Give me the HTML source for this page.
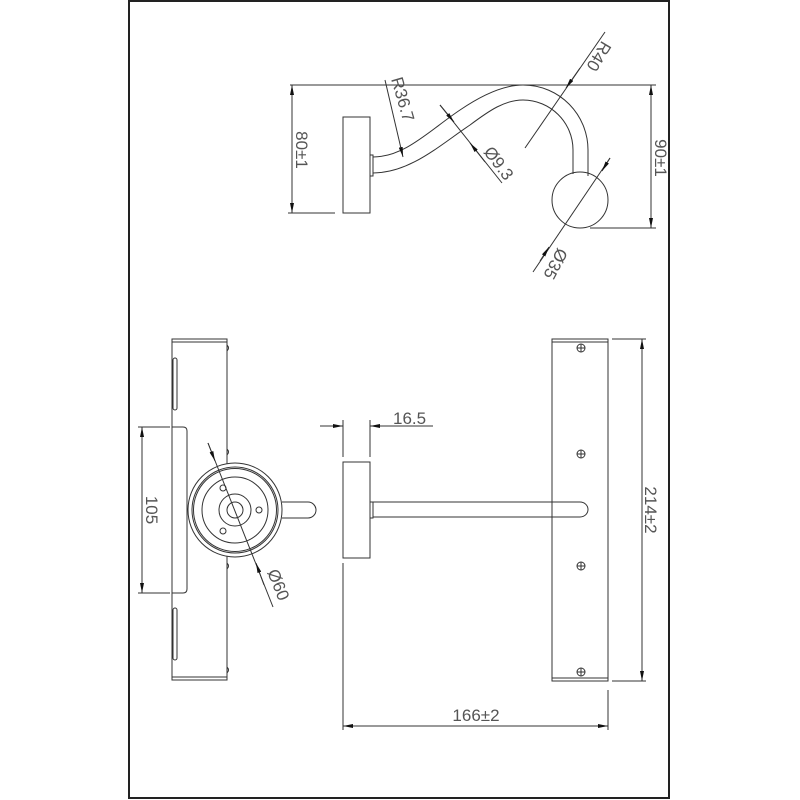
<!DOCTYPE html>
<html><head><meta charset="utf-8"><style>
html,body{margin:0;padding:0;background:#fff;width:800px;height:800px;overflow:hidden}
svg{display:block}
text{font-family:"Liberation Sans",sans-serif;font-size:17px;fill:#555}
</style></head><body>
<svg width="800" height="800" viewBox="0 0 800 800" xmlns="http://www.w3.org/2000/svg">
<defs>
<marker id="a" viewBox="0 0 10 4" refX="10" refY="2" markerWidth="10" markerHeight="4" orient="auto-start-reverse" markerUnits="userSpaceOnUse"><path d="M0,0 L10,2 L0,4z" fill="#111"/></marker>
</defs>
<rect x="129" y="1" width="540" height="797" fill="none" stroke="#222" stroke-width="2"/>
<g stroke="#333" stroke-width="1" fill="none">
<!-- TOP VIEW -->
<line x1="290" y1="85" x2="656" y2="85"/>
<line x1="292" y1="85" x2="292" y2="213" marker-start="url(#a)" marker-end="url(#a)"/>
<line x1="288" y1="213" x2="335" y2="213"/>
<rect x="343" y="117" width="27" height="96"/>
<rect x="370" y="155" width="3" height="21"/>
<path d="M373,157 C405,157 430,130 460,110 C485,93 505,85 523,85 C560,85 588,115 588,150 L588,176"/>
<path d="M373,173 C410,173 440,145 470,125 C490,110 505,100 523,100 C550,100 573,122 573,150 L573,174"/>
<circle cx="580" cy="200" r="28"/>
<line x1="590" y1="228" x2="656" y2="228"/>
<line x1="651" y1="85" x2="651" y2="228" marker-start="url(#a)" marker-end="url(#a)"/>
<line x1="605" y1="32" x2="525" y2="148"/>
<line x1="580" y1="68" x2="566" y2="88" marker-end="url(#a)"/>
<line x1="385" y1="80" x2="403" y2="157" marker-end="url(#a)"/>
<line x1="440" y1="105" x2="502" y2="183"/>
<line x1="440" y1="105" x2="454" y2="122" marker-end="url(#a)"/>
<line x1="485" y1="162" x2="470" y2="143" marker-end="url(#a)"/>
<line x1="610" y1="158" x2="533" y2="272"/>
<line x1="610" y1="158" x2="602" y2="171" marker-end="url(#a)"/>
<line x1="540" y1="261" x2="549" y2="247" marker-end="url(#a)"/>
<!-- SIDE VIEW LEFT -->
<rect x="172" y="339" width="55" height="341"/>
<line x1="172" y1="342" x2="227" y2="342"/>
<line x1="172" y1="677" x2="227" y2="677"/>
<path d="M227,345 q3,3 0,6 M227,449 q3,3 0,6 M227,563 q3,3 0,6 M227,667 q3,3 0,6"/>
<rect x="173" y="358" width="4" height="52" rx="2"/>
<rect x="173" y="608" width="4" height="52" rx="2"/>
<path d="M172,427 L183,427 Q187,427 187,431 L187,589 Q187,593 183,593 L172,593"/>
<line x1="138" y1="427" x2="170" y2="427"/>
<line x1="138" y1="593" x2="170" y2="593"/>
<line x1="142" y1="427" x2="142" y2="593" marker-start="url(#a)" marker-end="url(#a)"/>
<path d="M282,502 L308,502 A8,8 0 0 1 308,518 L282,518"/>
<circle cx="235" cy="510" r="47" fill="#fff"/>
<circle cx="235" cy="510" r="43"/>
<circle cx="235" cy="510" r="41.5"/>
<circle cx="235" cy="510" r="33"/>
<circle cx="235" cy="510" r="16"/>
<circle cx="235" cy="510" r="8"/>
<circle cx="223" cy="488" r="3"/>
<circle cx="259" cy="510" r="3"/>
<circle cx="223" cy="531" r="3"/>
<line x1="208" y1="443" x2="273" y2="607"/>
<line x1="208" y1="443" x2="215" y2="461" marker-end="url(#a)"/>
<line x1="264" y1="585" x2="256" y2="563" marker-end="url(#a)"/>
<!-- FRONT VIEW -->
<rect x="343" y="462" width="27" height="96"/>
<rect x="370" y="502" width="3" height="16"/>
<path d="M373,502 L580,502 A8,7.5 0 0 1 580,517 L373,517"/>
<rect x="552" y="339" width="56" height="342"/>
<line x1="552" y1="342" x2="608" y2="342"/>
<line x1="552" y1="678" x2="608" y2="678"/>
<g>
<circle cx="581" cy="348" r="4"/><path d="M577,348h8M581,344v8"/>
<circle cx="581" cy="454" r="4"/><path d="M577,454h8M581,450v8"/>
<circle cx="581" cy="566" r="4"/><path d="M577,566h8M581,562v8"/>
<circle cx="581" cy="672" r="4"/><path d="M577,672h8M581,668v8"/>
</g>
<line x1="612" y1="339" x2="646" y2="339"/>
<line x1="612" y1="681" x2="646" y2="681"/>
<line x1="642" y1="339" x2="642" y2="681" marker-start="url(#a)" marker-end="url(#a)"/>
<line x1="343" y1="420" x2="343" y2="457"/>
<line x1="370" y1="420" x2="370" y2="457"/>
<line x1="320" y1="426" x2="343" y2="426" marker-end="url(#a)"/>
<line x1="433" y1="426" x2="370" y2="426" marker-end="url(#a)"/>
<line x1="343" y1="563" x2="343" y2="730"/>
<line x1="608" y1="690" x2="608" y2="730"/>
<line x1="343" y1="726" x2="608" y2="726" marker-start="url(#a)" marker-end="url(#a)"/>
</g>
<!-- TEXT -->
<text transform="translate(296,150) rotate(90)" text-anchor="middle">80±1</text>
<text transform="translate(655,158) rotate(90)" text-anchor="middle">90±1</text>
<text transform="translate(391,79) rotate(74)">R36.7</text>
<text transform="translate(483,152) rotate(53)">Ø9.3</text>
<text transform="translate(602,40) rotate(121)">R40</text>
<text transform="translate(558,247) rotate(118)">Ø35</text>
<text transform="translate(146,510) rotate(90)" text-anchor="middle">105</text>
<text transform="translate(267,572) rotate(68)">Ø60</text>
<text x="393" y="424">16.5</text>
<text transform="translate(645,510) rotate(90)" text-anchor="middle">214±2</text>
<text x="476" y="721" text-anchor="middle">166±2</text>
</svg>
</body></html>
